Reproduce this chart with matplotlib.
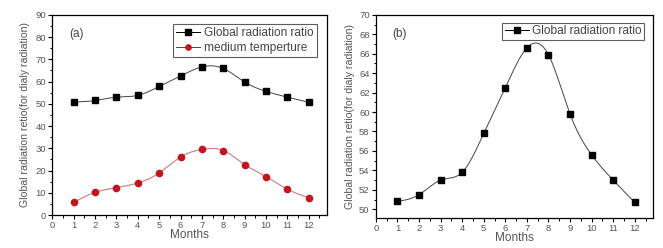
import numpy as np
import matplotlib
matplotlib.use("Agg")
import matplotlib.pyplot as plt
from matplotlib.ticker import MultipleLocator

months = [1, 2, 3, 4, 5, 6, 7, 8, 9, 10, 11, 12]
global_ratio = [50.8, 51.5, 53.0, 53.8, 57.8, 62.5, 66.6, 65.9, 59.8, 55.6, 53.0, 50.7]
medium_temp = [5.7, 10.2, 12.3, 14.4, 18.9, 26.1, 29.5, 29.0, 22.7, 17.3, 11.6, 7.8]
xticks = list(range(0, 13))


def natural_spline(x, y, n=400):
    x = np.asarray(x, float); y = np.asarray(y, float)
    m = len(x); h = np.diff(x)
    A = np.zeros((m, m)); b = np.zeros(m)
    A[0, 0] = 1; A[-1, -1] = 1
    for i in range(1, m - 1):
        A[i, i - 1] = h[i - 1]; A[i, i] = 2 * (h[i - 1] + h[i]); A[i, i + 1] = h[i]
        b[i] = 3 * ((y[i + 1] - y[i]) / h[i] - (y[i] - y[i - 1]) / h[i - 1])
    c = np.linalg.solve(A, b)
    xs = np.linspace(x[0], x[-1], n); ys = np.empty_like(xs)
    for k, xv in enumerate(xs):
        i = min(np.searchsorted(x, xv, side='right') - 1, m - 2)
        bi = (y[i + 1] - y[i]) / h[i] - h[i] * (2 * c[i] + c[i + 1]) / 3
        di = (c[i + 1] - c[i]) / (3 * h[i])
        dx = xv - x[i]
        ys[k] = y[i] + bi * dx + c[i] * dx ** 2 + di * dx ** 3
    return xs, ys


plt.rcParams['font.family'] = ['Liberation Sans', 'DejaVu Sans']
fig = plt.figure(figsize=(6.63, 2.48), dpi=100)
tick_col = '#555555'


def style(ax, ymaj, ymin, lpad):
    ax.set_xlim(0, 12.85)
    ax.set_xticks(xticks)
    ax.xaxis.set_minor_locator(MultipleLocator(0.5))
    ax.yaxis.set_major_locator(MultipleLocator(ymaj))
    ax.yaxis.set_minor_locator(MultipleLocator(ymin))
    ax.tick_params(which='major', direction='out', length=3, width=0.8, labelsize=6.8,
                   labelcolor=tick_col, pad=1.5, top=False, right=False)
    ax.tick_params(which='minor', direction='out', length=1.8, width=0.7, top=False, right=False)
    for s in ax.spines.values():
        s.set_linewidth(0.9)
    ax.set_xlabel('Months', fontsize=8.5, color=tick_col, labelpad=-1)
    ax.set_ylabel('Global radiation retio(for dialy radiation)', fontsize=7.6, color=tick_col, labelpad=lpad)


# Panel (a)
ax1 = fig.add_axes([0.079, 0.133, 0.414, 0.807])
xs, ys = natural_spline(months, global_ratio)
ax1.plot(xs, ys, color='#444444', lw=0.7)
xs2, ys2 = natural_spline(months, medium_temp)
ax1.plot(xs2, ys2, color='#c98a8a', lw=0.9)
ax1.plot(months, global_ratio, 's', color='black', ms=4.3)
ax1.plot(months, medium_temp, 'o', color='#c0161c', ms=4.5)
h1, = ax1.plot([], [], '-s', color='black', ms=3.8, lw=0.7, label='Global radiation ratio')
h2, = ax1.plot([], [], '-o', color='#c0161c', ms=3.8, lw=0.7, label='medium temperture')
ax1.set_ylim(0, 90)
style(ax1, 10, 5, 4)
ax1.text(0.06, 0.935, '(a)', transform=ax1.transAxes, fontsize=8.5, color='#444444', va='top')
leg = ax1.legend(handles=[h1, h2], loc='upper right', fontsize=8.6, frameon=True, fancybox=False,
                 edgecolor='#333333', handlelength=2.0, handletextpad=0.3, borderpad=0.3,
                 labelspacing=0.2, bbox_to_anchor=(0.985, 0.985))
leg.get_frame().set_linewidth(0.8)
for t in leg.get_texts():
    t.set_color('#444444')

# Panel (b)
ax2 = fig.add_axes([0.567, 0.121, 0.418, 0.819])
ax2.plot(xs, ys, color='#444444', lw=0.7)
ax2.plot(months, global_ratio, 's', color='black', ms=4.3)
h3, = ax2.plot([], [], '-s', color='black', ms=3.8, lw=0.7, label='Global radiation ratio')
ax2.set_ylim(49.1, 70)
style(ax2, 2, 1, 3)
ax2.text(0.06, 0.935, '(b)', transform=ax2.transAxes, fontsize=8.5, color='#444444', va='top')
leg2 = ax2.legend(handles=[h3], loc='upper right', fontsize=8.6, frameon=True, fancybox=False,
                  edgecolor='#333333', handlelength=2.0, handletextpad=0.3, borderpad=0.2,
                  bbox_to_anchor=(0.99, 0.99))
leg2.get_frame().set_linewidth(0.8)
for t in leg2.get_texts():
    t.set_color('#444444')

fig.savefig('out.png', dpi=100)
